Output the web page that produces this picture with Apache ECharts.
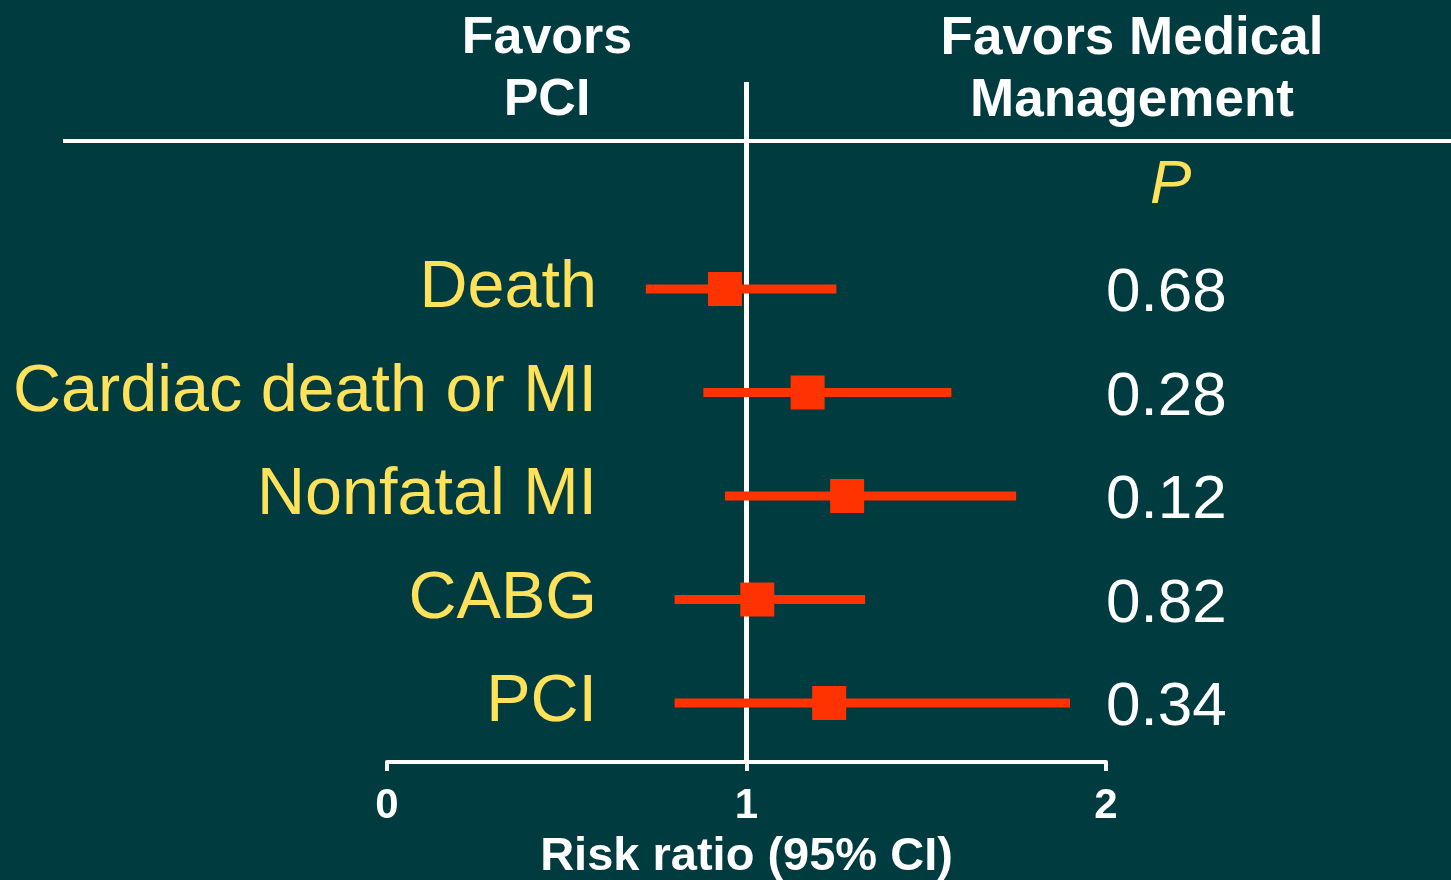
<!DOCTYPE html>
<html>
<head>
<meta charset="utf-8">
<script src="https://cdn.jsdelivr.net/npm/echarts@6/dist/echarts.min.js"></script>
<style>
  html, body { margin: 0; padding: 0; background: #003b3f; }
  #chart { width: 1451px; height: 880px; }
</style>
</head>
<body>
<div id="chart"></div>
<script>
// Outcomes, risk ratios and 95% confidence limits (PCI vs medical management)
const outcomes = ['Death', 'Cardiac death or MI', 'Nonfatal MI', 'CABG', 'PCI'];
const riskRatio = [0.94, 1.17, 1.28, 1.03, 1.23];
const ciLower   = [0.72, 0.88, 0.94, 0.80, 0.80];
const ciUpper   = [1.25, 1.57, 1.75, 1.33, 1.90];
const pValues   = ['0.68', '0.28', '0.12', '0.82', '0.34'];
const xTicks    = [0, 1, 2];

const FONT = '"Liberation Sans", Arial, sans-serif';
const YELLOW = '#ffe15a';
const ORANGE = '#ff3300';
const WHITE = '#ffffff';

const rows = outcomes.map((name, i) => [i, riskRatio[i], ciLower[i], ciUpper[i]]);

const chart = echarts.init(document.getElementById('chart'), null, { renderer: 'canvas' });

chart.setOption({
  backgroundColor: '#003b3f',
  animation: false,
  grid: { left: 387, right: 345, top: 82, bottom: 118, outerBoundsMode: 'none' },
  xAxis: {
    type: 'value',
    min: xTicks[0],
    max: xTicks[xTicks.length - 1],
    interval: 1,
    splitLine: { show: false },
    axisLine: { show: true, onZero: false, lineStyle: { color: WHITE, width: 4 } },
    axisTick: { show: true, length: 9, lineStyle: { color: WHITE, width: 4 } },
    axisLabel: {
      color: WHITE, fontFamily: FONT, fontWeight: 'bold', fontSize: 42, margin: 23,
      formatter: v => String(v)
    },
    name: 'Risk ratio (95% CI)',
    nameLocation: 'middle',
    nameGap: 72,
    nameTextStyle: { color: WHITE, fontFamily: FONT, fontWeight: 'bold', fontSize: 47 }
  },
  yAxis: [
    {
      type: 'value',
      inverse: true,
      min: -2,
      max: 4.57,
      interval: 1,
      splitLine: { show: false },
      axisLine: { show: false },
      axisTick: { show: false },
      axisLabel: {
        color: YELLOW, fontFamily: FONT, fontSize: 66.5, margin: -210, align: 'right',
        showMaxLabel: false,
        formatter: v => (v >= 0 && v < outcomes.length) ? outcomes[v] : ''
      }
    },
    {
      type: 'value',
      inverse: true,
      position: 'right',
      min: -2,
      max: 4.57,
      interval: 1,
      splitLine: { show: false },
      axisLine: { show: false },
      axisTick: { show: false },
      axisLabel: {
        color: WHITE, fontFamily: FONT, fontSize: 62, margin: 0, align: 'left',
        showMaxLabel: false,
        formatter: v => {
          if (v === -1) return '{p|P}';
          return (v >= 0 && v < pValues.length) ? '{v|' + pValues[v] + '}' : '';
        },
        rich: {
          p: { color: YELLOW, fontFamily: FONT, fontSize: 62, fontStyle: 'italic', padding: [0, 0, 0, 44] },
          v: { color: WHITE, fontFamily: FONT, fontSize: 62, padding: [10, 0, 0, 0] }
        }
      }
    }
  ],
  series: [
    {
      type: 'custom',
      data: rows,
      encode: { x: [1, 2, 3], y: 0 },
      z: 5,
      renderItem: (params, api) => {
        const row = api.value(0);
        const pLo = api.coord([api.value(2), row]);
        const pHi = api.coord([api.value(3), row]);
        const pMid = api.coord([api.value(1), row]);
        const half = 17;
        return {
          type: 'group',
          children: [
            {
              type: 'rect',
              shape: { x: pLo[0], y: pLo[1] - 4.5, width: pHi[0] - pLo[0], height: 9 },
              style: { fill: ORANGE }
            },
            {
              type: 'rect',
              shape: { x: pMid[0] - half, y: pMid[1] - half, width: half * 2, height: half * 2 },
              style: { fill: ORANGE }
            }
          ]
        };
      },
      markLine: {
        silent: true,
        symbol: ['none', 'none'],
        label: { show: false },
        z: 1,
        lineStyle: { color: WHITE, width: 5, type: 'solid' },
        data: [{ xAxis: 1 }]
      }
    }
  ],
  graphic: [
    { type: 'line', z: 0, shape: { x1: 63, y1: 141, x2: 1451, y2: 141 }, style: { stroke: WHITE, lineWidth: 4 } },
    {
      type: 'text', x: 547, y: 8,
      style: { text: 'Favors\nPCI', fill: WHITE, font: 'bold 52px ' + FONT, textAlign: 'center', textVerticalAlign: 'top', lineHeight: 62 }
    },
    {
      type: 'text', x: 1132, y: 8,
      style: { text: 'Favors Medical\nManagement', fill: WHITE, font: 'bold 53px ' + FONT, textAlign: 'center', textVerticalAlign: 'top', lineHeight: 62 }
    }
  ]
});
</script>
</body>
</html>
